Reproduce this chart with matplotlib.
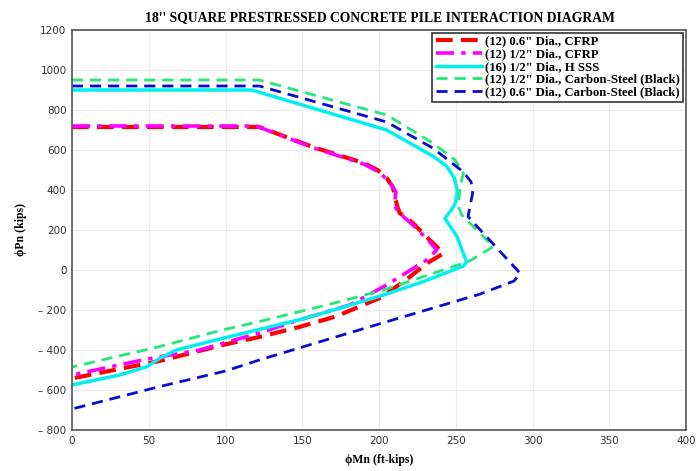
import matplotlib
matplotlib.use('Agg')
import matplotlib.pyplot as plt
from matplotlib.ticker import FuncFormatter

# (12) 0.6" Dia., CFRP
m_cfrp06 = [0, 122, 157, 190, 199, 205, 209, 212, 213.5, 222, 233, 236.5, 242,
            231, 220, 202, 172, 148, 122, 98, 57, 0]
p_cfrp06 = [715, 715, 615, 535, 500, 460, 415, 315, 285, 235, 150, 125, 83,
            33, -35, -135, -232, -285, -335, -375, -455, -542]

# (12) 1/2" Dia., CFRP
m_cfrp05 = [0, 120, 157, 190, 200, 207, 211, 210, 214, 222, 232, 237.6,
            231, 205, 181, 148, 122, 83, 49, 0]
p_cfrp05 = [720, 720, 612, 530, 490, 440, 390, 320, 280, 225, 150, 100,
            50, -75, -175, -250, -315, -400, -445, -525]

# (16) 1/2" Dia., HSSS
m_hsss = [0, 117, 205, 235, 244, 249, 251, 250, 248, 243, 251, 257, 255,
          230, 203, 175, 150, 122, 98, 68, 57, 49, 31, 0]
p_hsss = [900, 900, 700, 570, 520, 460, 400, 340, 310, 258, 165, 40, 20,
          -55, -125, -190, -245, -297, -342, -400, -442, -483, -525, -575]

# (12) 1/2" Dia., Carbon-Steel (Black)
m_cs05 = [0, 122, 205, 235, 249.5, 255, 252.8, 251.7, 253.9, 274.5, 259,
          203, 174.6, 122, 98, 57, 25, 0]
p_cs05 = [950, 950, 775, 635, 550, 485, 417, 317, 275, 117, 45,
          -100, -158, -258, -300, -383, -440, -485]

# (12) 0.6" Dia., Carbon-Steel (Black)
m_cs06 = [0, 122, 205, 235, 255, 260, 261, 258, 292, 288, 266, 200, 122, 100,
          57, 0]
p_cs06 = [920, 920, 740, 610, 490, 440, 385, 267, -17, -55, -120, -270, -450,
          -505, -583, -695]

labels = ['(12) 0.6" Dia., CFRP', '(12) 1/2" Dia., CFRP', '(16) 1/2" Dia., H SSS',
          '(12) 1/2" Dia., Carbon-Steel (Black)', '(12) 0.6" Dia., Carbon-Steel (Black)']

serif = ['Liberation Serif', 'DejaVu Serif']

fig = plt.figure(figsize=(7, 4.71), dpi=100)
ax = fig.add_axes([72 / 700, 41 / 471, 614 / 700, 400 / 471])

ax.plot(m_cfrp06, p_cfrp06, color='#ff0000', lw=3, dashes=(4, 2), label=labels[0])
ax.plot(m_cfrp05, p_cfrp05, color='#ff00ff', lw=2.6, dashes=(5, 2, 1.2, 2), label=labels[1])
ax.plot(m_hsss, p_hsss, color='#00f0f0', lw=2.5, label=labels[2])
ax.plot(m_cs05, p_cs05, color='#22e87a', lw=2, dashes=(4, 2.5), label=labels[3])
ax.plot(m_cs06, p_cs06, color='#0a0ad8', lw=2, dashes=(4, 2.5), label=labels[4])

ax.set_xlim(0, 400)
ax.set_ylim(-800, 1200)
ax.set_xticks(range(0, 401, 50))
ax.set_yticks(range(-800, 1201, 200))
ax.yaxis.set_major_formatter(FuncFormatter(
    lambda v, pos: ('\u2013 %d' % abs(v)) if v < 0 else '%d' % v))
ax.tick_params(length=0, labelsize=7.5, labelcolor='#333333', pad=4)
ax.grid(True, color='#ececec', lw=0.8)
ax.set_axisbelow(True)
for s in ax.spines.values():
    s.set_color('#555555')
    s.set_linewidth(1.2)

ax.set_xlabel('\u03d5Mn (ft-kips)', family=serif, fontweight='bold', fontsize=8.5, labelpad=6)
ax.set_ylabel('\u03d5Pn (kips)', family=serif, fontweight='bold', fontsize=8.5, labelpad=8)
fig.text(0.543, 0.963, '18\'\' SQUARE PRESTRESSED CONCRETE PILE INTERACTION DIAGRAM',
         ha='center', va='center', family=serif, fontweight='bold', fontsize=9.8)

leg = ax.legend(loc='upper right', prop={'family': serif, 'weight': 'bold', 'size': 9.2},
                handlelength=3.6, handletextpad=0.3, labelspacing=0.05,
                borderpad=0.25, fancybox=False, framealpha=1,
                borderaxespad=0.2)
leg.get_frame().set_edgecolor('#333333')
leg.get_frame().set_linewidth(1.2)

fig.savefig('out.png', dpi=100)
